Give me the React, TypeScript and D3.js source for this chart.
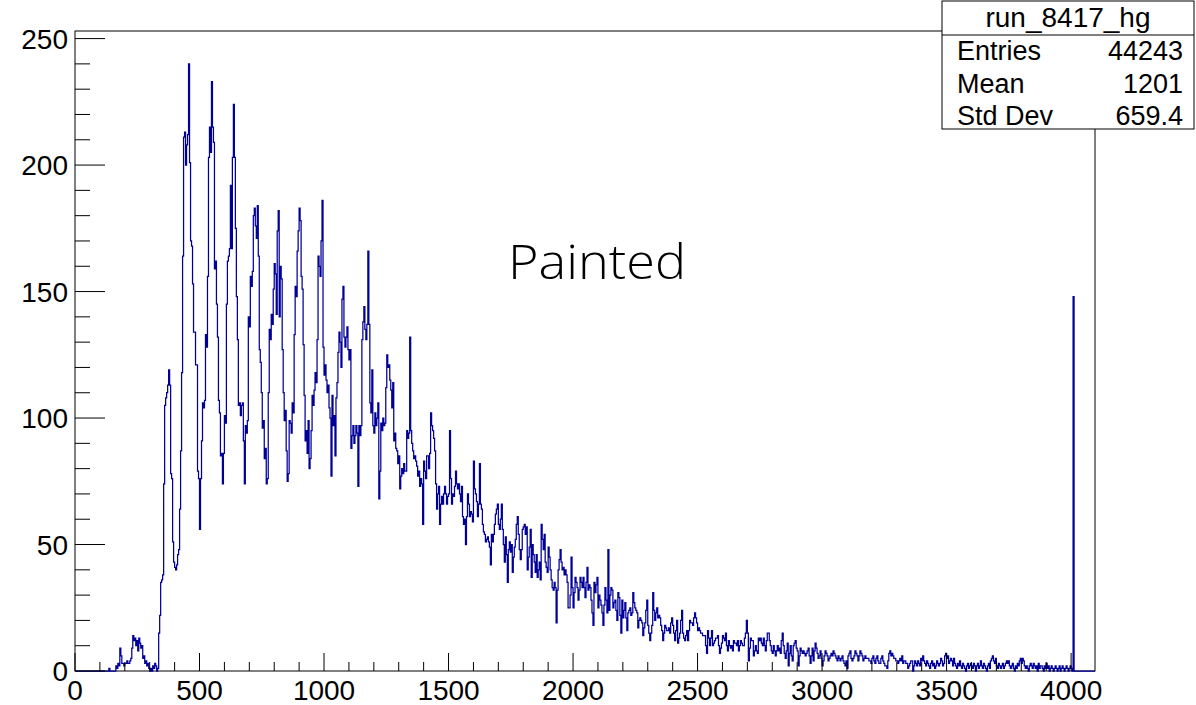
import React from "react";
import * as d3 from "d3";

// Histogram run_8417_hg : 1024 bins of width 4 over [0, 4096]
const binWidth = 4;
const xMax = 4096;
const yMax = 253;
const xMajorTicks = [0, 500, 1000, 1500, 2000, 2500, 3000, 3500, 4000];
const yMajorTicks = [0, 50, 100, 150, 200, 250];
const statsTitle = "run_8417_hg";
const statsLabels = ["Entries", "Mean", "Std Dev"];
const statsValues = ["44243", "1201", "659.4"];
const paintedLabel = "Painted";

// bins 0-83
const countsA = [
  0,0,0,0,0,0,0,0,0,0,
  0,0,0,0,0,0,0,0,0,0,
  0,0,0,0,0,0,0,0,0,0,
  0,0,0,0,1,0,0,0,0,0,
  0,2,1,3,2,9,6,3,3,2,
  3,3,4,3,3,4,5,9,14,12,
  13,10,12,8,13,11,9,10,5,6,
  3,4,2,3,1,0,1,0,2,1,
  3,2,0,1,
];
// bins 84-173
const countsB = [
  15,22,35,36,38,74,
  105,108,110,113,119,113,78,76,51,43,
  41,40,42,46,48,64,87,118,164,211,
  213,200,208,212,240,201,170,168,153,134,
  134,121,121,79,76,56,76,91,106,104,
  107,133,128,156,203,215,205,233,215,209,
  159,162,145,132,107,102,85,86,74,86,
  101,98,145,162,164,167,192,167,203,224,
  203,175,148,131,105,106,101,105,106,91,
  74,97,94,99,
];
// bins 174-263
const countsC = [
  140,136,156,152,158,180,183,176,171,184,
  164,127,122,110,96,99,84,88,74,76,
  110,135,131,141,137,151,161,157,141,174,
  182,140,160,155,127,110,99,103,87,75,
  78,99,98,94,106,102,133,152,148,166,
  174,183,178,156,151,129,109,91,95,86,
  99,80,84,95,109,105,111,118,114,131,
  164,160,156,170,186,128,117,121,115,110,
  113,104,100,77,109,97,101,85,108,114,
];
// bins 264-353
const countsD = [
  126,134,130,120,147,152,132,128,132,136,
  127,123,127,88,93,97,90,93,97,94,
  73,97,93,97,131,138,144,135,131,137,
  166,137,106,102,119,97,94,102,97,100,
  106,68,79,98,95,100,97,98,112,125,
  120,121,115,111,104,114,91,94,88,87,
  82,85,72,77,80,78,82,79,79,95,
  92,94,132,95,90,87,84,85,83,81,
  77,79,73,76,74,58,83,79,76,85,
];
// bins 354-459
const countsE = [
  85,80,86,102,97,95,92,87,74,64,
  70,73,58,66,69,66,70,73,70,66,
  69,70,95,76,66,70,69,73,79,74,
  72,74,70,67,73,61,58,60,50,61,
  70,66,61,63,62,59,83,72,70,67,
  61,66,82,66,64,58,55,54,51,52,
  53,51,49,42,54,51,54,58,62,64,
  66,58,56,60,66,56,50,43,53,46,
  35,48,51,47,50,39,45,49,52,58,
  61,54,48,44,48,56,57,58,54,57,
  40,45,49,56,37,50,
];
// bins 460-559
const countsF = [
  46,43,39,46,37,40,43,36,58,52,
  48,54,43,41,39,49,45,40,36,33,
  32,35,33,19,32,40,44,48,43,40,
  41,38,40,38,35,25,25,30,45,33,
  25,31,37,35,33,28,32,37,35,33,
  37,33,29,35,41,32,34,33,28,23,
  18,35,31,34,37,25,30,28,26,23,
  18,26,33,28,23,48,24,30,33,32,
  25,27,28,24,20,31,29,22,15,28,
  21,24,27,21,16,23,24,25,22,23,
];
// bins 560-659
const countsG = [
  31,27,25,24,23,17,20,21,20,19,
  14,17,19,24,28,18,15,12,15,18,
  31,24,20,23,25,21,22,21,18,16,
  12,15,18,17,16,16,17,15,19,21,
  18,15,12,16,20,11,13,15,20,24,
  15,13,12,14,16,12,16,20,19,19,
  18,21,23,21,19,16,17,16,15,15,
  14,14,14,10,7,16,13,10,13,16,
  10,11,12,13,13,14,10,7,9,11,
  14,13,12,15,10,8,12,10,9,10,
];
// bins 660-759
const countsH = [
  8,12,11,11,10,12,8,10,12,11,
  10,10,13,15,20,15,4,9,13,12,
  12,6,8,10,8,7,13,12,13,11,
  10,13,10,8,12,15,15,12,10,8,
  7,10,8,6,8,10,8,9,7,12,
  15,10,7,5,8,11,2,7,10,6,
  4,10,11,12,9,8,2,6,9,8,
  7,8,7,6,7,8,9,6,3,6,
  9,4,8,11,9,7,5,6,8,5,
  2,4,6,8,7,6,4,5,6,7,
];
// bins 760-859
const countsI = [
  6,8,7,6,5,4,6,5,4,5,
  6,4,3,2,4,1,6,7,8,5,
  4,5,6,8,7,6,4,6,8,7,
  6,4,5,6,5,5,5,4,4,3,
  5,6,4,3,5,6,4,3,3,5,
  6,4,3,2,2,1,4,7,8,6,
  7,6,5,5,4,4,3,4,5,4,
  6,3,4,4,3,3,1,2,3,4,
  4,0,2,4,3,2,4,3,2,5,
  4,6,4,3,2,4,3,2,1,3,
];
// bins 860-959
const countsJ = [
  4,2,3,1,2,4,3,2,3,5,
  4,2,3,6,7,5,6,3,4,5,
  4,2,5,3,2,1,3,2,4,2,
  1,3,2,1,0,2,3,1,2,3,
  2,1,3,2,0,2,3,1,2,4,
  2,1,3,2,1,0,2,3,1,4,
  5,6,4,3,5,2,1,3,2,1,
  2,3,1,2,3,4,3,4,2,1,
  2,3,1,0,2,1,3,2,4,5,
  3,5,4,2,1,2,1,0,2,3,
];
// bins 960-1023
const countsK = [
  2,1,3,2,1,2,0,3,1,2,
  2,1,0,2,1,3,1,2,0,1,
  2,1,0,1,2,1,0,1,2,0,
  1,2,1,0,1,2,1,0,1,2,
  1,0,148,0,0,0,0,0,0,0,
  0,0,0,0,0,0,0,0,0,0,
  0,0,0,0,
];

const counts = [
  ...countsA, ...countsB, ...countsC, ...countsD, ...countsE, ...countsF,
  ...countsG, ...countsH, ...countsI, ...countsJ, ...countsK,
];

const W = 1196;
const H = 705;
const frame = { left: 75, right: 1095, top: 31, bottom: 671 };
const lineColor = "#000099";
const font = "'Liberation Sans', Arial, Helvetica, sans-serif";

export default function App() {
  const x = d3.scaleLinear().domain([0, xMax]).range([frame.left, frame.right]);
  const y = d3.scaleLinear().domain([0, yMax]).range([frame.bottom, frame.top]);

  const pts: [number, number][] = [[0, 0]];
  counts.forEach((c, i) => {
    pts.push([i * binWidth, c]);
    pts.push([(i + 1) * binWidth, c]);
  });
  pts.push([xMax, 0]);
  const line = d3
    .line<[number, number]>()
    .x((d) => x(d[0]))
    .y((d) => y(d[1]));
  const path = line(pts) || "";

  const xMinor = d3.range(0, 4001, 100).filter((v) => v % 500 !== 0);
  const yMinor = d3.range(0, 251, 10).filter((v) => v % 50 !== 0);

  const box = { x: 942, y: 1, w: 252, h: 128 };

  return (
    <svg
      width={W}
      height={H}
      style={{ position: "absolute", left: 0, top: 0, background: "#fff" }}
    >
      <rect x={0} y={0} width={W} height={H} fill="#fff" />
      {/* frame */}
      <rect
        x={frame.left}
        y={frame.top}
        width={frame.right - frame.left}
        height={frame.bottom - frame.top}
        fill="none"
        stroke="#000"
        strokeWidth={1}
      />
      {/* histogram */}
      <path d={path} fill="none" stroke={lineColor} strokeWidth={1.25} />

      {/* x ticks */}
      {xMajorTicks.map((v) => (
        <line key={"xM" + v} x1={x(v)} x2={x(v)} y1={frame.bottom} y2={frame.bottom - 18} stroke="#000" />
      ))}
      {xMinor.map((v) => (
        <line key={"xm" + v} x1={x(v)} x2={x(v)} y1={frame.bottom} y2={frame.bottom - 9} stroke="#000" />
      ))}
      {xMajorTicks.map((v) => (
        <text key={"xl" + v} x={x(v)} y={700} textAnchor="middle" fontFamily={font} fontSize={28} fill="#000">
          {v}
        </text>
      ))}

      {/* y ticks */}
      {yMajorTicks.map((v) => (
        <line key={"yM" + v} x1={frame.left} x2={frame.left + 30} y1={y(v)} y2={y(v)} stroke="#000" />
      ))}
      {yMinor.map((v) => (
        <line key={"ym" + v} x1={frame.left} x2={frame.left + 15} y1={y(v)} y2={y(v)} stroke="#000" />
      ))}
      {yMajorTicks.map((v) => (
        <text
          key={"yl" + v}
          x={68}
          y={y(v) + 10}
          textAnchor="end"
          fontFamily={font}
          fontSize={28}
          fill="#000"
        >
          {v}
        </text>
      ))}

      {/* Painted label */}
      <text
        x={508}
        y={279}
        fontFamily="'Open Sans', 'DejaVu Sans', sans-serif"
        fontWeight={300}
        fontSize={47}
        fill="#000"
        textLength={178}
        lengthAdjust="spacingAndGlyphs"
      >
        {paintedLabel}
      </text>

      {/* stats box */}
      <rect x={box.x} y={box.y} width={box.w} height={box.h} fill="#fff" stroke="#000" strokeWidth={1} />
      <line x1={box.x} x2={box.x + box.w} y1={35} y2={35} stroke="#000" />
      <text x={box.x + box.w / 2} y={27} textAnchor="middle" fontFamily={font} fontSize={28} fill="#000">
        {statsTitle}
      </text>
      {statsLabels.map((lab, i) => (
        <g key={lab}>
          <text x={957} y={60 + i * 32.5} fontFamily={font} fontSize={27} fill="#000">
            {lab}
          </text>
          <text x={1183} y={60 + i * 32.5} textAnchor="end" fontFamily={font} fontSize={27} fill="#000">
            {statsValues[i]}
          </text>
        </g>
      ))}
    </svg>
  );
}
